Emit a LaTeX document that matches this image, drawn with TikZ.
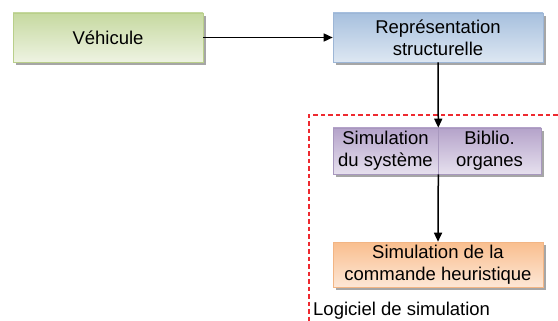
\documentclass[tikz,border=0pt]{standalone}
\usepackage{fontspec}
\setmainfont{Liberation Sans}
\usetikzlibrary{shadows,arrows.meta}
\definecolor{gtop}{HTML}{C6D9A0}
\definecolor{gbot}{HTML}{EEF3E2}
\definecolor{gbrd}{HTML}{B9CF8A}
\definecolor{btop}{HTML}{A7C0DE}
\definecolor{bbot}{HTML}{DDE7F2}
\definecolor{bbrd}{HTML}{9DB6D6}
\definecolor{ptop}{HTML}{B5A3CA}
\definecolor{pbot}{HTML}{E6E0EE}
\definecolor{pbrd}{HTML}{A898BE}
\definecolor{otop}{HTML}{F9BE8E}
\definecolor{obot}{HTML}{FDE7D6}
\definecolor{obrd}{HTML}{F2B584}
\definecolor{dashred}{HTML}{EE2A30}
\tikzset{
  box/.style={draw, line width=0.6pt, inner sep=0pt, align=center,
    font=\fontsize{18.5}{22}\selectfont,
    drop shadow={shadow xshift=3pt, shadow yshift=-3pt, fill=black!35, opacity=1}},
  greenbox/.style={box, draw=gbrd, top color=gtop, bottom color=gbot},
  bluebox/.style={box, draw=bbrd, top color=btop, bottom color=bbot},
  purplebox/.style={box, draw=pbrd, top color=ptop, bottom color=pbot},
  orangebox/.style={box, draw=obrd, top color=otop, bottom color=obot},
  conn/.style={line width=1.5pt, -{Triangle[length=9pt,width=8pt]}},
  frame/.style={draw=dashred, line width=1.5pt, dash pattern=on 4.5pt off 3pt},
}
\begin{document}
\begin{tikzpicture}[x=1pt,y=-1pt]
\useasboundingbox (0,0) rectangle (558,321);
\fill[white] (0,0) rectangle (558,321);
% dashed frame
\path[frame] (565,115) -| (309,330);
\node[greenbox, minimum width=190pt, minimum height=49pt] (veh) at (108,37.5) {Véhicule};
\node[bluebox, minimum width=210pt, minimum height=49pt] (rep) at (438,37.5) {Représentation\\structurelle};
\node[purplebox, minimum width=105pt, minimum height=46pt] (sim) at (385.5,151) {Simulation\\du système};
\node[purplebox, minimum width=103pt, minimum height=46pt] (bib) at (489.5,151) {Biblio.\\organes};
\node[orangebox, minimum width=210pt, minimum height=45pt] (cmd) at (438,264.5) {Simulation de la\\commande heuristique};
\node[anchor=west, inner sep=0pt, font=\fontsize{18.5}{22}\selectfont] (lab) at (313,311) {Logiciel de simulation};
\draw[conn] (veh.east) -- (rep.west);
\draw[conn] (rep.south) -- (sim.north east);
\draw[conn] (sim.south east) -- (cmd.north);
\end{tikzpicture}
\end{document}
